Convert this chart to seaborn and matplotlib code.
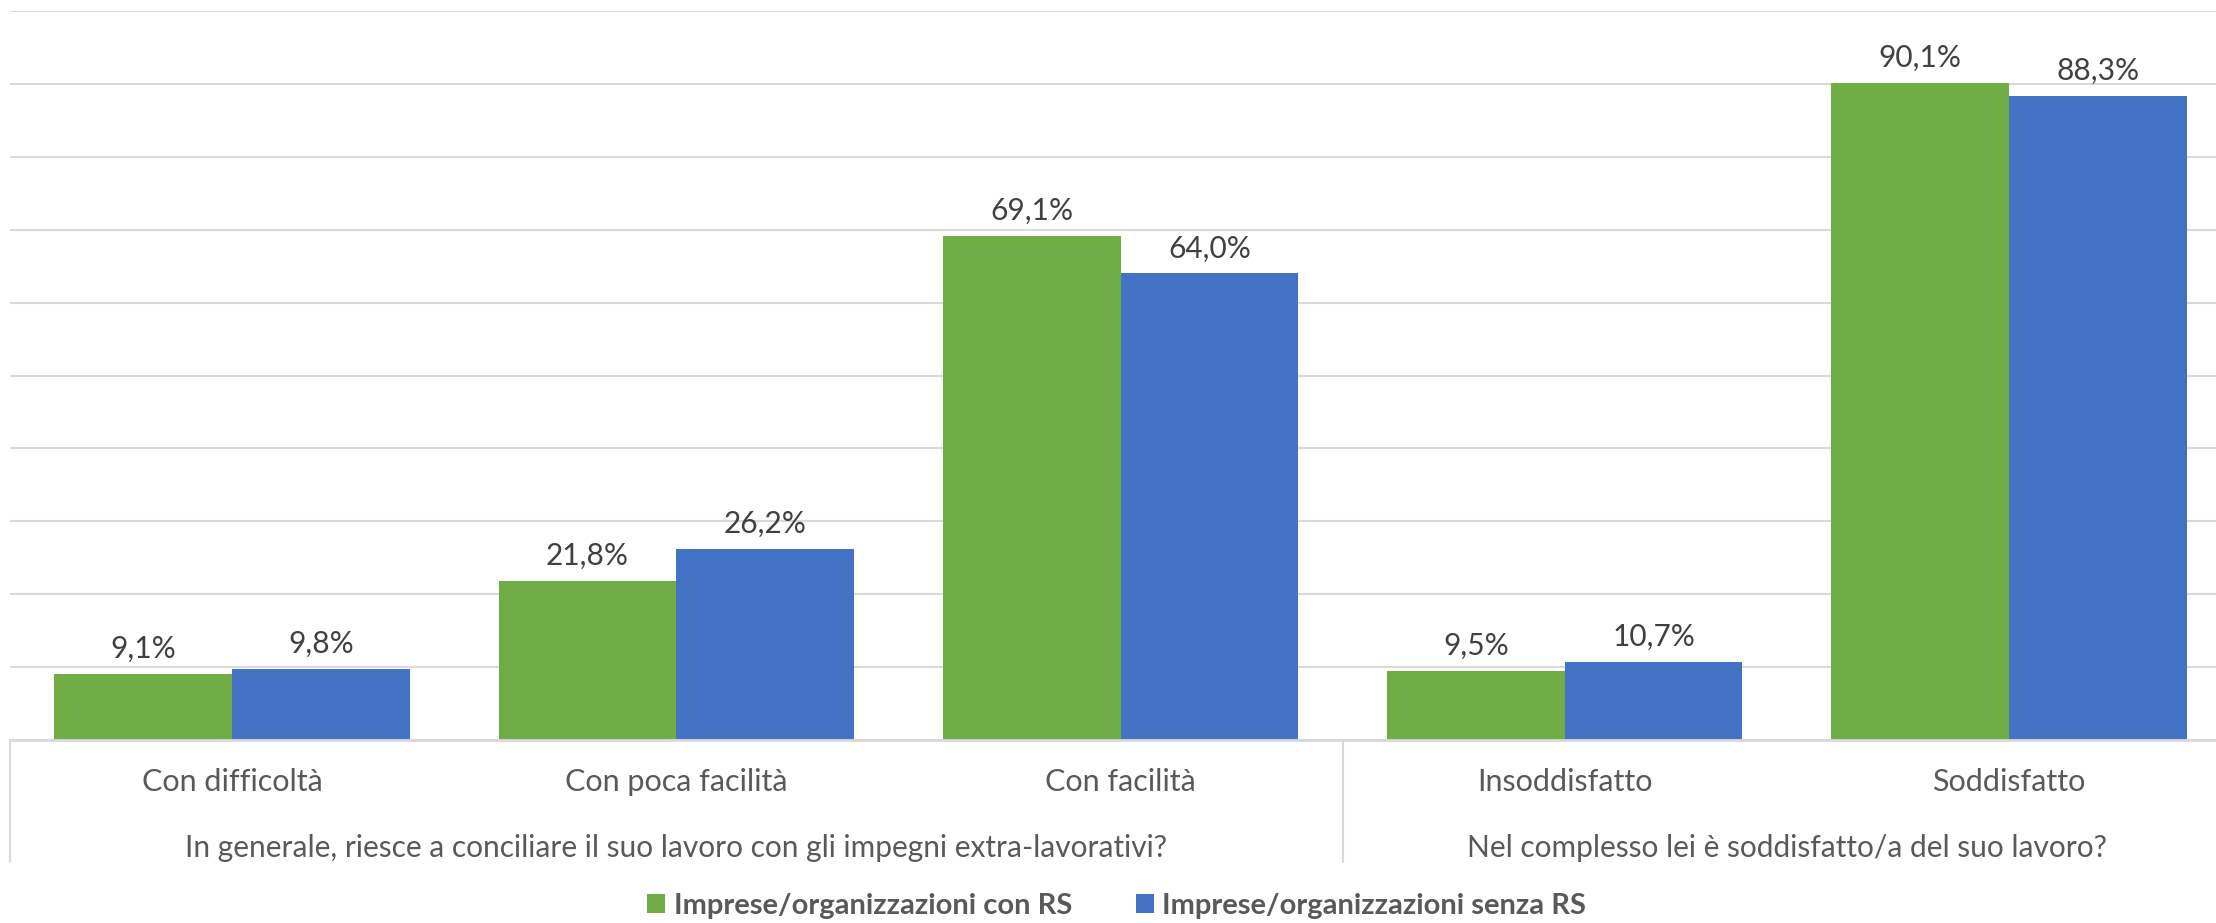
import matplotlib
matplotlib.use("Agg")
import matplotlib.pyplot as plt
import seaborn as sns
import pandas as pd
from matplotlib.patches import Patch

categories = ["Con difficoltà", "Con poca facilità", "Con facilità", "Insoddisfatto", "Soddisfatto"]
groups = ["In generale, riesce a conciliare il suo lavoro con gli impegni extra-lavorativi?",
          "Nel complesso lei è soddisfatto/a del suo lavoro?"]
group_sizes = [3, 2]
series_names = ["Imprese/organizzazioni con RS", "Imprese/organizzazioni senza RS"]
values_con = [9.1, 21.8, 69.1, 9.5, 90.1]
values_senza = [9.8, 26.2, 64.0, 10.7, 88.3]
colors = ["#70AD47", "#4472C4"]

df = pd.DataFrame({
    "cat": categories * 2,
    "serie": [series_names[0]] * 5 + [series_names[1]] * 5,
    "val": values_con + values_senza,
})

sns.set_theme(style="white")
plt.rcParams["font.family"] = ["Lato", "DejaVu Sans"]

W, H = 2216, 923
fig = plt.figure(figsize=(W / 100, H / 100), dpi=100)
left_px, right_px, top_px, base_px = 10, 2216, 11, 740
ax = fig.add_axes([left_px / W, (H - base_px) / H, (right_px - left_px) / W, (base_px - top_px) / H])

sns.barplot(data=df, x="cat", y="val", hue="serie", palette=colors, order=categories,
            hue_order=series_names, width=0.8, ax=ax, legend=False, saturation=1, edgecolor="none")

ax.set_ylim(0, 100)
ax.set_xlim(-0.5, 4.5 - 15 / 444)
ax.set_yticks(range(0, 101, 10))
ax.set_yticklabels([])
ax.tick_params(axis="y", length=0)
ax.yaxis.grid(True, color="#D9D9D9", linewidth=1.5)
ax.set_axisbelow(True)
for s in ["left", "right", "top"]:
    ax.spines[s].set_visible(False)
ax.spines["bottom"].set_color("#D9D9D9")
ax.spines["bottom"].set_linewidth(2)
ax.set_xlabel("")
ax.set_ylabel("")
ax.tick_params(axis="x", length=0, pad=20, labelsize=22, labelcolor="#595959")

for cont in ax.containers:
    ax.bar_label(cont, labels=[f"{v:.1f}%".replace(".", ",") for v in cont.datavalues],
                 padding=8, fontsize=21.5, color="#404040")

# group separators and group labels
trans = ax.get_xaxis_transform()
start = -0.5
for g, n in zip(groups, group_sizes):
    ax.plot([start, start], [0, -0.167], transform=trans, color="#D9D9D9", lw=1.5, clip_on=False)
    ax.text(start + n / 2, -0.148, g, transform=trans, ha="center", va="center",
            fontsize=21.5, color="#595959")
    start += n
ax.plot([start, start], [0, -0.167], transform=trans, color="#D9D9D9", lw=1.5, clip_on=False)

handles = [Patch(facecolor=c, edgecolor="none") for c in colors]
fig.legend(handles, series_names, loc="center", bbox_to_anchor=(0.504, 17 / H), ncol=2,
           frameon=False, prop={"size": 21, "weight": "bold"}, labelcolor="#595959",
           handlelength=0.6, handleheight=0.6, handletextpad=0.3, columnspacing=2.2)

fig.savefig("out.png", dpi=100)
